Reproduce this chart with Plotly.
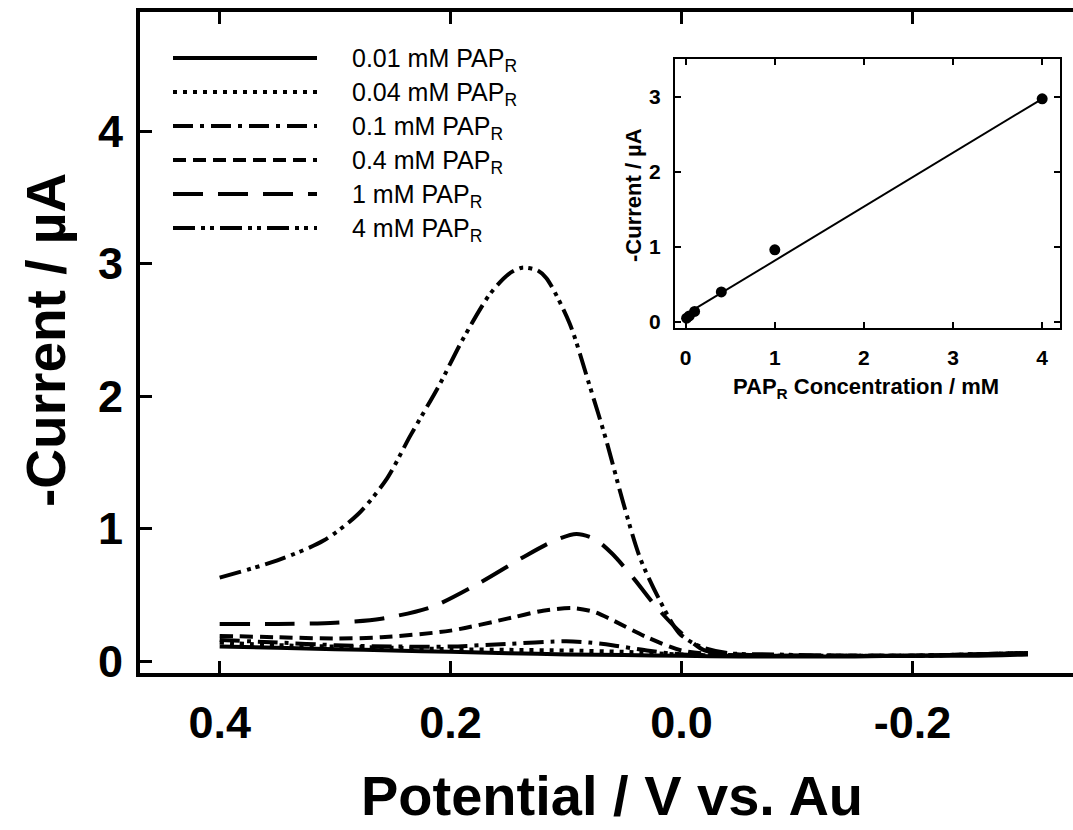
import plotly.graph_objects as go

# ---------------- data ----------------
labels = ["0.01 mM PAP<sub>R</sub>", "0.04 mM PAP<sub>R</sub>", "0.1 mM PAP<sub>R</sub>",
          "0.4 mM PAP<sub>R</sub>", "1 mM PAP<sub>R</sub>", "4 mM PAP<sub>R</sub>"]

x_001 = [0.40, 0.35, 0.30, 0.25, 0.20, 0.15, 0.10, 0.05, 0.0, -0.05, -0.10, -0.15, -0.20, -0.25, -0.30]
y_001 = [0.11, 0.10, 0.09, 0.08, 0.07, 0.06, 0.05, 0.045, 0.04, 0.035, 0.035, 0.035, 0.04, 0.04, 0.05]

x_004 = [0.40, 0.35, 0.30, 0.25, 0.20, 0.15, 0.10, 0.05, 0.0, -0.05, -0.10, -0.15, -0.20, -0.25, -0.30]
y_004 = [0.14, 0.12, 0.11, 0.10, 0.09, 0.085, 0.08, 0.07, 0.05, 0.04, 0.04, 0.04, 0.04, 0.05, 0.06]

x_01 = [0.40, 0.35, 0.30, 0.25, 0.20, 0.15, 0.10, 0.08, 0.06, 0.03, 0.0, -0.05, -0.10, -0.15, -0.20, -0.25, -0.30]
y_01 = [0.16, 0.14, 0.12, 0.11, 0.11, 0.13, 0.15, 0.14, 0.12, 0.08, 0.05, 0.04, 0.04, 0.04, 0.04, 0.05, 0.06]

x_04 = [0.40, 0.35, 0.30, 0.26, 0.20, 0.146, 0.12, 0.094, 0.075, 0.06, 0.03, 0.0, -0.03, -0.08, -0.14, -0.20, -0.25, -0.30]
y_04 = [0.19, 0.18, 0.17, 0.18, 0.23, 0.33, 0.38, 0.40, 0.37, 0.31, 0.18, 0.08, 0.05, 0.04, 0.04, 0.04, 0.05, 0.06]

x_1 = [0.40, 0.35, 0.30, 0.26, 0.216, 0.175, 0.138, 0.11, 0.091, 0.075, 0.060, 0.042, 0.022, 0.0, -0.02,
       -0.05, -0.10, -0.15, -0.20, -0.25, -0.30]
y_1 = [0.28, 0.28, 0.29, 0.32, 0.41, 0.59, 0.78, 0.91, 0.96, 0.92, 0.81, 0.63, 0.41, 0.21, 0.08,
       0.05, 0.04, 0.04, 0.04, 0.05, 0.06]

x_4 = [0.40, 0.35, 0.31, 0.28, 0.255, 0.235, 0.21, 0.19, 0.166, 0.150, 0.138, 0.125, 0.117, 0.097, 0.080,
       0.065, 0.051, 0.036, 0.019, 0.002, -0.016, -0.04, -0.08, -0.14, -0.20, -0.25, -0.30]
y_4 = [0.63, 0.76, 0.91, 1.11, 1.38, 1.70, 2.08, 2.42, 2.77, 2.92, 2.97, 2.95, 2.89, 2.55, 2.09,
       1.66, 1.21, 0.78, 0.46, 0.21, 0.11, 0.06, 0.05, 0.04, 0.04, 0.05, 0.06]

series_x = [x_001, x_004, x_01, x_04, x_1, x_4]
series_y = [y_001, y_004, y_01, y_04, y_1, y_4]

# inset: calibration
conc = [0.01, 0.04, 0.1, 0.4, 1, 4]
peak_current = [0.05, 0.08, 0.14, 0.40, 0.96, 2.97]
fit_x = [0.0, 4.0]
fit_y = [0.10, 2.97]

main_xticks = [0.4, 0.2, 0.0, -0.2]
main_xticktext = ["0.4", "0.2", "0.0", "-0.2"]
main_yticks = [0, 1, 2, 3, 4]
inset_xticks = [0, 1, 2, 3, 4]
inset_yticks = [0, 1, 2, 3]

# ---------------- styles ----------------
dashes = ["solid", "4px,6px", "20px,7px,4px,7px", "13px,7px", "30px,15px", "22px,6px,4px,5px,4px,6px"]
FONT = "Arial, Liberation Sans, sans-serif"

W, H = 1073, 830
L, R, T, B = 140, 0, 12, 157
PW, PH = W - L - R, H - T - B


def px2x(px):
    return (px - L) / PW


def py2y(py):
    return (H - B - py) / PH


fig = go.Figure()
for sx, sy, d, lab in zip(series_x, series_y, dashes, labels):
    fig.add_trace(go.Scatter(x=sx, y=sy, mode="lines", name=lab,
                             line=dict(color="black", width=4, dash=d, shape="spline", smoothing=0.8),
                             xaxis="x", yaxis="y", showlegend=False))

fig.add_trace(go.Scatter(x=fit_x, y=fit_y, mode="lines", line=dict(color="black", width=2),
                         xaxis="x2", yaxis="y2", showlegend=False))
fig.add_trace(go.Scatter(x=conc, y=peak_current, mode="markers",
                         marker=dict(color="black", size=11),
                         xaxis="x2", yaxis="y2", showlegend=False))

# legend drawn manually (long line samples)
shapes = []
annotations = []
for i, (d, lab) in enumerate(zip(dashes, labels)):
    py = 58 + 34 * i
    shapes.append(dict(type="line", xref="paper", yref="paper",
                       x0=px2x(173), x1=px2x(317), y0=py2y(py), y1=py2y(py),
                       line=dict(color="black", width=4, dash=d)))
    annotations.append(dict(text=lab, xref="paper", yref="paper", x=px2x(350), y=py2y(py + 2),
                            xanchor="left", yanchor="middle", showarrow=False,
                            font=dict(family=FONT, size=25, color="black")))

# axis titles
annotations.append(dict(text="Potential / V vs. Au", xref="paper", yref="paper",
                        x=px2x(612), y=py2y(829), xanchor="center", yanchor="bottom",
                        showarrow=False, font=dict(family=FONT, size=56, color="black", weight="bold")))
annotations.append(dict(text="-Current / µA", xref="paper", yref="paper",
                        x=px2x(46), y=py2y(340), xanchor="center", yanchor="middle", textangle=-90,
                        showarrow=False, font=dict(family=FONT, size=55, color="black", weight="bold")))
annotations.append(dict(text="PAP<sub>R</sub> Concentration / mM", xref="paper", yref="paper",
                        x=px2x(866), y=py2y(388), xanchor="center", yanchor="middle",
                        showarrow=False, font=dict(family=FONT, size=22, color="black", weight="bold")))
annotations.append(dict(text="-Current / µA", xref="paper", yref="paper",
                        x=px2x(633), y=py2y(195), xanchor="center", yanchor="middle", textangle=-90,
                        showarrow=False, font=dict(family=FONT, size=22, color="black", weight="bold")))

inset_x0, inset_x1 = px2x(675), px2x(1060)
inset_y0, inset_y1 = py2y(328), py2y(59)

fig.update_layout(
    width=W, height=H,
    margin=dict(l=L, r=R, t=T, b=B),
    paper_bgcolor="white", plot_bgcolor="white",
    font=dict(family=FONT, color="black"),
    showlegend=False,
    xaxis=dict(range=[0.469, -0.339], tickvals=main_xticks, ticktext=main_xticktext,
               showgrid=False, zeroline=False, showline=True, linecolor="black", linewidth=4,
               mirror="ticks", ticks="inside", ticklen=12, tickwidth=3, tickcolor="black",
               tickfont=dict(family=FONT, size=45, color="black", weight="bold"),
               ticklabelstandoff=7, domain=[0, 1]),
    yaxis=dict(range=[-0.09, 4.9], tickvals=main_yticks,
               showgrid=False, zeroline=False, showline=True, linecolor="black", linewidth=4,
               ticks="inside", ticklen=12, tickwidth=3, tickcolor="black",
               tickfont=dict(family=FONT, size=45, color="black", weight="bold"),
               ticklabelstandoff=4, domain=[0, 1]),
    xaxis2=dict(range=[-0.12, 4.2], tickvals=inset_xticks, domain=[inset_x0, inset_x1], anchor="y2",
                showgrid=False, zeroline=False, showline=True, linecolor="black", linewidth=2,
                mirror="ticks", ticks="inside", ticklen=6, tickwidth=2, tickcolor="black",
                tickfont=dict(family=FONT, size=21, color="black", weight="bold"),
                ticklabelstandoff=10),
    yaxis2=dict(range=[-0.08, 3.5], tickvals=inset_yticks, domain=[inset_y0, inset_y1], anchor="x2",
                showgrid=False, zeroline=False, showline=True, linecolor="black", linewidth=2,
                mirror="ticks", ticks="inside", ticklen=6, tickwidth=2, tickcolor="black",
                tickfont=dict(family=FONT, size=21, color="black", weight="bold"),
                ticklabelstandoff=8),
    shapes=shapes,
    annotations=annotations,
)

fig.write_html("out.html")
